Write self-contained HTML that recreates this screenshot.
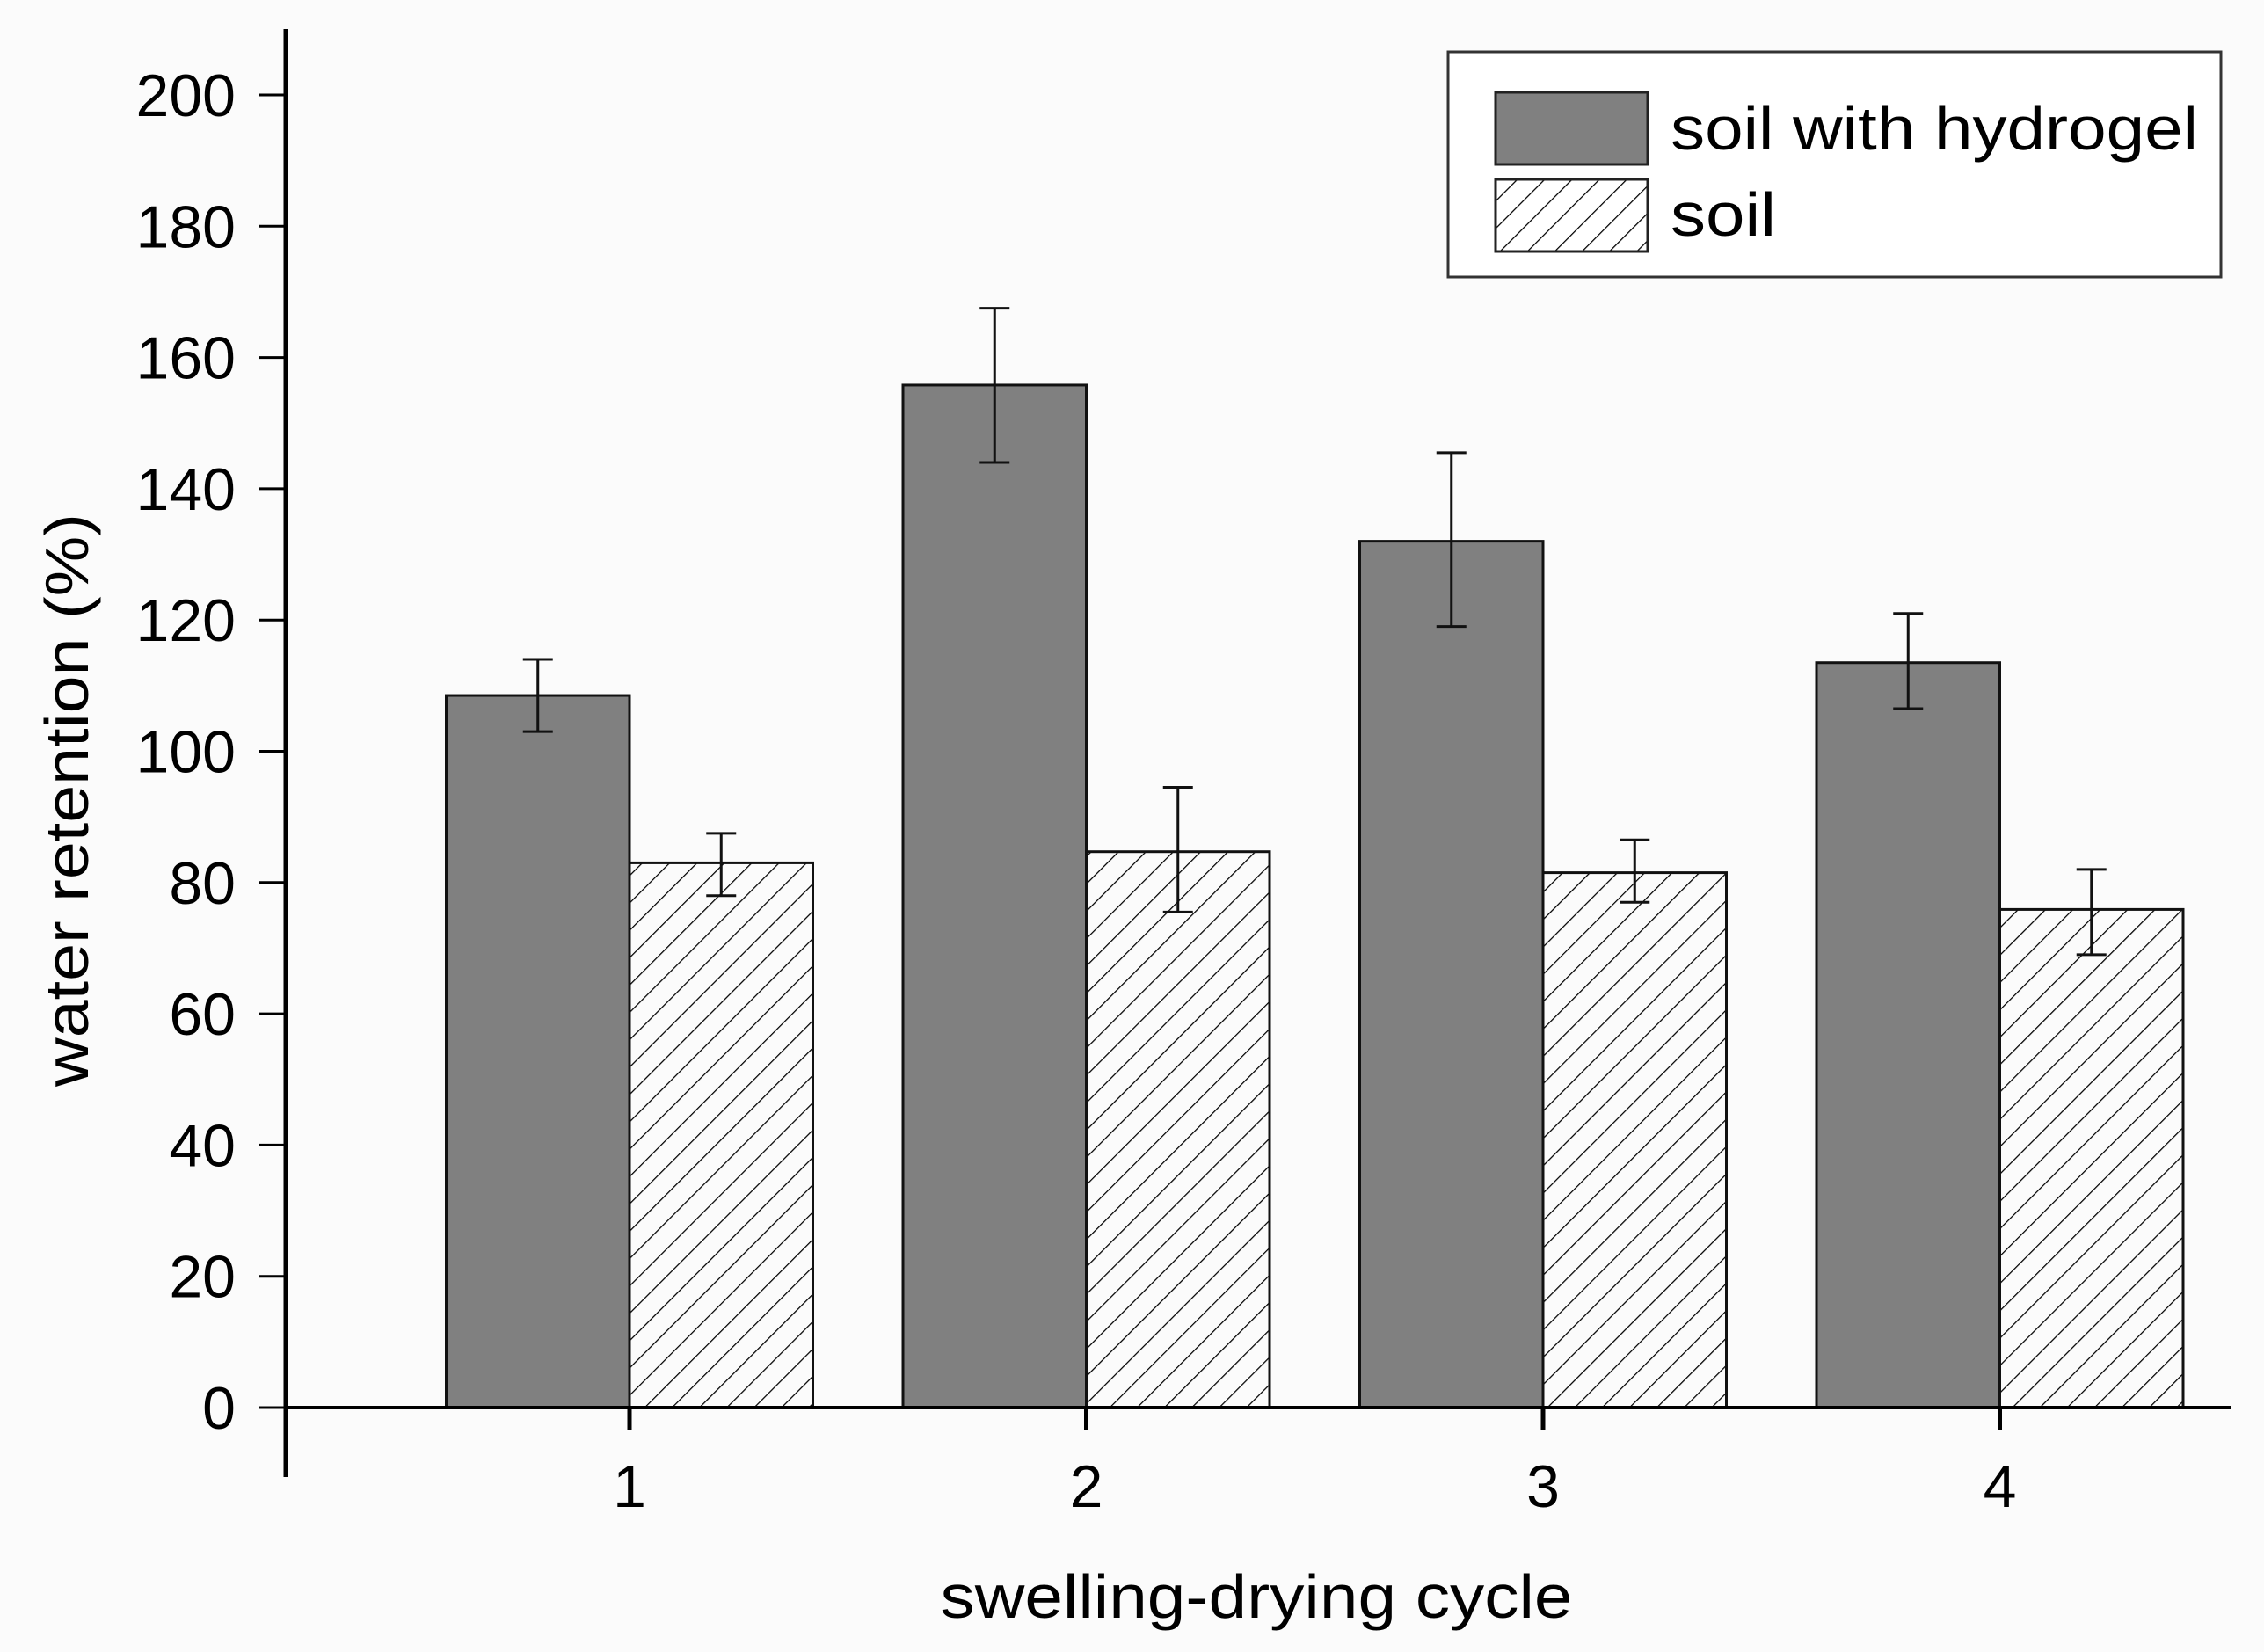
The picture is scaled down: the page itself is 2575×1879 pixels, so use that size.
<!DOCTYPE html>
<html><head><meta charset="utf-8"><style>
html,body{margin:0;padding:0;background:#fbfbfb;}
svg{display:block;font-family:"Liberation Sans",Arial,sans-serif;}
</style></head><body>
<svg id="chart" width="2575" height="1879" viewBox="0 0 2575 1879" xmlns="http://www.w3.org/2000/svg">
<defs>
<pattern id="hatch" patternUnits="userSpaceOnUse" width="22" height="22" patternTransform="rotate(45)">
<line x1="0" y1="0" x2="0" y2="22" stroke="#000" stroke-width="2.5"/>
</pattern>
</defs>
<rect width="2575" height="1879" fill="#fbfbfb"/>
<g id="plot"></g>
<g>
<rect x="1647" y="59" width="879" height="256" fill="#fff" stroke="#333" stroke-width="3"/>
<rect x="1701" y="105" width="173" height="82" fill="#808080" stroke="#222" stroke-width="3"/>
<text x="1900" y="170" font-size="70" textLength="600" lengthAdjust="spacingAndGlyphs">soil with hydrogel</text>
<rect x="1701" y="204" width="173" height="82" fill="url(#hatch)" stroke="#222" stroke-width="3"/>
<text x="1900" y="268" font-size="70" textLength="120" lengthAdjust="spacingAndGlyphs">soil</text>
</g>
<text x="1429" y="1840" font-size="70" text-anchor="middle" textLength="719" lengthAdjust="spacingAndGlyphs">swelling-drying cycle</text>
<text transform="translate(100,910) rotate(-90)" font-size="70" text-anchor="middle" textLength="652" lengthAdjust="spacingAndGlyphs">water retention (%)</text>
</svg>
<script>
const categories = ["1","2","3","4"];
const hydrogelValues = [108.5, 155.8, 132, 113.5];
const hydrogelErrLow = [103, 144, 119, 106.5];
const hydrogelErrHigh = [114, 167.5, 145.5, 121];
const soilValues = [83, 84.7, 81.5, 75.9];
const soilErrLow = [78, 75.5, 77, 69];
const soilErrHigh = [87.5, 94.5, 86.5, 82];
const yTicks = [0,20,40,60,80,100,120,140,160,180,200];

const NS="http://www.w3.org/2000/svg";
const g=document.getElementById('plot');
const axX=325, yZero=1601, yTop=108, yMax=200;
const firstCenter=716, spacing=519.5, barW=208.5;
function yScale(v){return yZero-(v/yMax)*(yZero-yTop);}
function xScale(i){return firstCenter+i*spacing;}
function mk(tag,attrs){const e=document.createElementNS(NS,tag);for(const k in attrs)e.setAttribute(k,attrs[k]);g.appendChild(e);return e;}

categories.forEach((c,i)=>{
  const cx=xScale(i);
  let yh=yScale(hydrogelValues[i]);
  let b=mk('rect',{x:cx-barW,y:yh,width:barW,height:yZero-yh,fill:'#808080',stroke:'#111','stroke-width':3});
  
  
  let ys=yScale(soilValues[i]);
  let s=mk('rect',{x:cx,y:ys,width:barW,height:yZero-ys,fill:'url(#hatch)',stroke:'#111','stroke-width':3});
  
  
  [[cx-barW/2,hydrogelErrLow[i],hydrogelErrHigh[i],'hydrogel'],[cx+barW/2,soilErrLow[i],soilErrHigh[i],'soil']].forEach(([ex,lo,hi,n])=>{
    const eg=document.createElementNS(NS,'g');
    
    
    g.appendChild(eg);
    const a=[[ex,yScale(lo),ex,yScale(hi)],[ex-17,yScale(lo),ex+17,yScale(lo)],[ex-17,yScale(hi),ex+17,yScale(hi)]];
    a.forEach(l=>{const ln=document.createElementNS(NS,'line');ln.setAttribute('x1',l[0]);ln.setAttribute('y1',l[1]);ln.setAttribute('x2',l[2]);ln.setAttribute('y2',l[3]);ln.setAttribute('stroke','#111');ln.setAttribute('stroke-width',3);eg.appendChild(ln);});
  });
});

let ya=mk('line',{x1:axX,y1:33,x2:axX,y2:1680,stroke:'#000','stroke-width':5});


let xa=mk('line',{x1:axX,y1:yZero,x2:2537,y2:yZero,stroke:'#000','stroke-width':4});


yTicks.forEach(t=>{
  const y=yScale(t);
  let tk=mk('line',{x1:axX-30,y1:y,x2:axX,y2:y,stroke:'#000','stroke-width':3});
  
  
  let tl=mk('text',{x:268,y:y+24,'font-size':68,'text-anchor':'end'});
  tl.textContent=t;
  
  
});
categories.forEach((c,i)=>{
  const x=xScale(i);
  let tk=mk('line',{x1:x,y1:yZero,x2:x,y2:yZero+25,stroke:'#000','stroke-width':5});
  
  
  let tl=mk('text',{x:x,y:1714,'font-size':68,'text-anchor':'middle'});
  tl.textContent=c;
  
  
});
</script>
</body></html>
